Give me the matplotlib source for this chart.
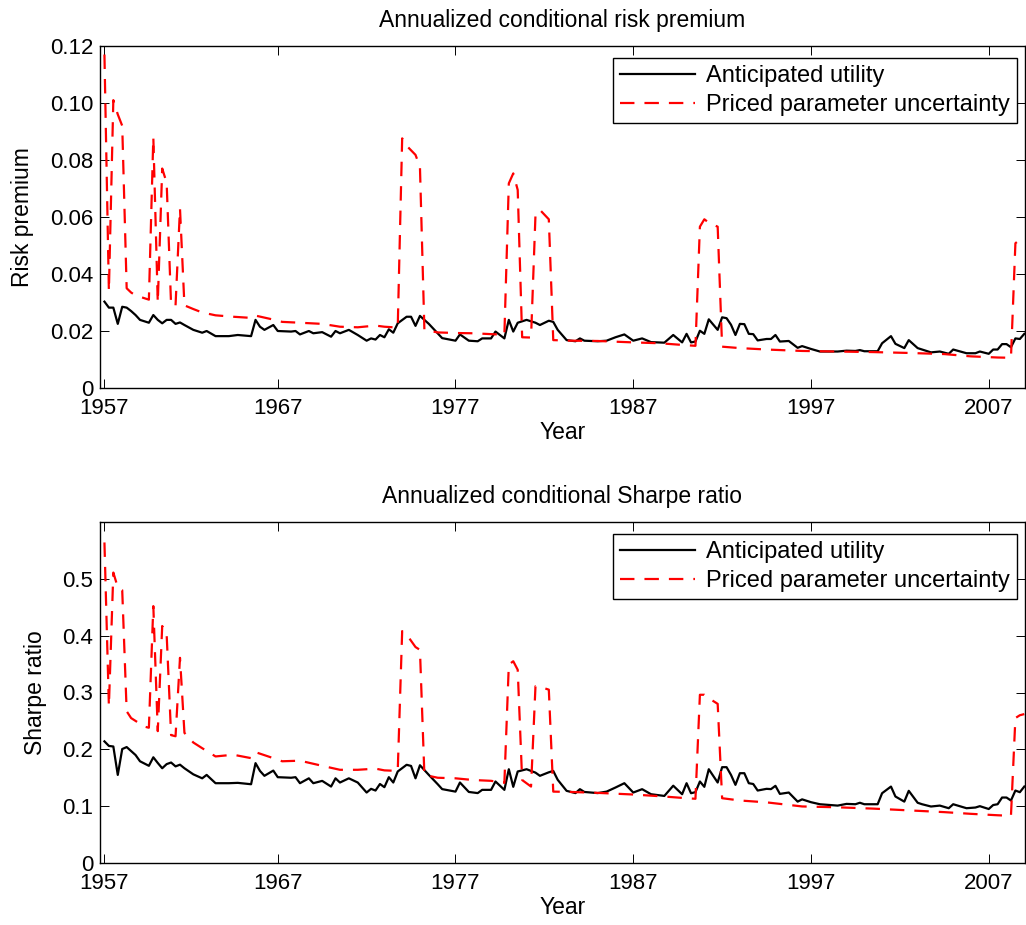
import numpy as np
import matplotlib
matplotlib.use('Agg')
import matplotlib.pyplot as plt

plt.rcParams['font.family'] = ['Liberation Sans', 'DejaVu Sans']
plt.rcParams['font.size'] = 16

# quarterly dates (anticipated utility line)
au_years = [1957.25, 1957.5, 1957.75, 1958.0, 1958.25, 1958.5, 1958.75, 1959.0, 1959.25, 1959.75,
            1960.0, 1960.25, 1960.5, 1960.75, 1961.0, 1961.25, 1961.5, 1961.75, 1962.25, 1962.75,
            1963.0, 1963.5, 1964.25, 1964.75, 1965.5, 1965.75, 1966.0, 1966.25, 1966.75, 1967.0,
            1967.75, 1968.0, 1968.25, 1968.75, 1969.0, 1969.5, 1970.0, 1970.25, 1970.5, 1971.0,
            1971.5, 1972.0, 1972.25, 1972.5, 1972.75, 1973.0, 1973.25, 1973.5, 1973.75, 1974.25,
            1974.5, 1974.75, 1975.0, 1975.5, 1976.0, 1976.25, 1977.0, 1977.25, 1977.75, 1978.25,
            1978.5, 1979.0, 1979.25, 1979.75, 1980.0, 1980.25, 1980.5, 1981.0, 1981.5, 1981.75,
            1982.25, 1982.5, 1982.75, 1983.25, 1983.75, 1984.0, 1984.25, 1985.0, 1985.5, 1986.0,
            1986.5, 1987.0, 1987.5, 1988.0, 1988.75, 1989.25, 1989.75, 1990.0, 1990.25, 1990.5,
            1990.75, 1991.0, 1991.25, 1991.75, 1992.0, 1992.25, 1992.5, 1992.75, 1993.0, 1993.25,
            1993.5, 1993.75, 1994.0, 1994.5, 1994.75, 1995.0, 1995.25, 1995.75, 1996.25, 1996.5,
            1997.0, 1997.5, 1998.5, 1999.0, 1999.5, 1999.75, 2000.0, 2000.75, 2001.0, 2001.5,
            2001.75, 2002.25, 2002.5, 2003.0, 2003.25, 2003.75, 2004.25, 2004.75, 2005.0, 2005.75,
            2006.25, 2006.5, 2007.0, 2007.25, 2007.5, 2007.75, 2008.0, 2008.25, 2008.5, 2008.75,
            2009.0]

rp_au = [0.0303, 0.0282, 0.0282, 0.0225, 0.0285, 0.0282, 0.0270, 0.0256, 0.0239, 0.0229,
         0.0256, 0.0239, 0.0227, 0.0239, 0.0239, 0.0225, 0.0230, 0.0221, 0.0204, 0.0194,
         0.0200, 0.0182, 0.0182, 0.0186, 0.0182, 0.0239, 0.0215, 0.0204, 0.0221, 0.0200,
         0.0198, 0.0200, 0.0188, 0.0200, 0.0192, 0.0196, 0.0180, 0.0200, 0.0192, 0.0204,
         0.0186, 0.0166, 0.0174, 0.0170, 0.0186, 0.0178, 0.0206, 0.0194, 0.0227, 0.0250,
         0.0250, 0.0218, 0.0253, 0.0225, 0.0192, 0.0175, 0.0166, 0.0188, 0.0166, 0.0164,
         0.0174, 0.0174, 0.0198, 0.0174, 0.0239, 0.0198, 0.0229, 0.0239, 0.0229, 0.0221,
         0.0236, 0.0232, 0.0204, 0.0168, 0.0164, 0.0174, 0.0166, 0.0164, 0.0166, 0.0178,
         0.0188, 0.0166, 0.0174, 0.0161, 0.0159, 0.0186, 0.0160, 0.0190, 0.0160, 0.0163,
         0.0201, 0.0190, 0.0241, 0.0204, 0.0248, 0.0245, 0.0222, 0.0186, 0.0225, 0.0224,
         0.0190, 0.0189, 0.0167, 0.0172, 0.0172, 0.0186, 0.0163, 0.0165, 0.0141, 0.0147,
         0.0137, 0.0128, 0.0128, 0.0131, 0.0130, 0.0133, 0.0129, 0.0129, 0.0157, 0.0182,
         0.0155, 0.0140, 0.0168, 0.0140, 0.0135, 0.0125, 0.0128, 0.0120, 0.0135, 0.0122,
         0.0122, 0.0128, 0.0120, 0.0135, 0.0135, 0.0154, 0.0154, 0.0143, 0.0174, 0.0172,
         0.0190]

sr_au = [0.214, 0.206, 0.205, 0.155, 0.2005, 0.204, 0.197, 0.190, 0.179, 0.171,
         0.186, 0.176, 0.1667, 0.174, 0.1768, 0.170, 0.173, 0.1667, 0.156, 0.149,
         0.155, 0.1404, 0.1404, 0.141, 0.1386, 0.1757, 0.162, 0.1534, 0.1626, 0.151,
         0.150, 0.151, 0.1404, 0.149, 0.1404, 0.1445, 0.1345, 0.149, 0.1416, 0.149,
         0.1416, 0.124, 0.1305, 0.1275, 0.139, 0.1334, 0.151, 0.1416, 0.161, 0.1728,
         0.1708, 0.149, 0.172, 0.155, 0.1386, 0.130, 0.1256, 0.1416, 0.125, 0.123,
         0.1287, 0.1287, 0.1434, 0.1287, 0.165, 0.134, 0.161, 0.165, 0.159, 0.1534,
         0.1596, 0.162, 0.1464, 0.127, 0.123, 0.1299, 0.125, 0.123, 0.1256, 0.1328,
         0.1404, 0.124, 0.1299, 0.121, 0.118, 0.136, 0.121, 0.1404, 0.1228, 0.1246,
         0.1434, 0.134, 0.165, 0.1416, 0.1686, 0.1686, 0.155, 0.1375, 0.158, 0.158,
         0.1404, 0.139, 0.1275, 0.1305, 0.130, 0.1358, 0.1216, 0.124, 0.108, 0.112,
         0.107, 0.1034, 0.101, 0.104, 0.1034, 0.106, 0.1034, 0.1034, 0.1228, 0.1345,
         0.117, 0.108, 0.127, 0.106, 0.1034, 0.0994, 0.101, 0.0964, 0.1034, 0.0964,
         0.0976, 0.100, 0.095, 0.102, 0.1034, 0.1152, 0.1152, 0.1099, 0.1275, 0.1246,
         0.1345]

# priced parameter uncertainty line
ppu_years = [1957.25, 1957.5, 1957.75, 1958.0, 1958.25, 1958.5, 1958.75, 1959.0, 1959.5, 1959.75,
             1960.0, 1960.25, 1960.5, 1960.75, 1961.0, 1961.25, 1961.5, 1961.75, 1962.25, 1962.75,
             1963.5, 1964.5, 1965.5, 1965.75, 1966.75, 1967.25, 1968.25, 1969.5, 1970.5, 1971.5,
             1972.5, 1973.0, 1973.75, 1974.0, 1974.25, 1974.75, 1975.0, 1975.25, 1976.0, 1977.0,
             1978.0, 1979.0, 1979.75, 1980.0, 1980.25, 1980.5, 1980.75, 1981.25, 1981.5, 1981.75,
             1982.25, 1982.5, 1983.5, 1985.0, 1987.0, 1988.5, 1990.0, 1990.5, 1990.75, 1991.0,
             1991.25, 1991.75, 1992.0, 1993.0, 1994.5, 1996.5, 1998.5, 2000.5, 2002.5, 2004.5,
             2006.0, 2007.5, 2008.25, 2008.5, 2008.75, 2009.0]

rp_ppu = [0.117, 0.034, 0.101, 0.096, 0.092, 0.035, 0.0335, 0.0325, 0.0315, 0.031,
          0.088, 0.030, 0.077, 0.072, 0.029, 0.029, 0.063, 0.029, 0.0277, 0.0265,
          0.0255, 0.0250, 0.0246, 0.0254, 0.0240, 0.0232, 0.0229, 0.0225, 0.0215, 0.0213,
          0.0219, 0.0215, 0.0212, 0.0876, 0.085, 0.0818, 0.0776, 0.0204, 0.0195, 0.0193,
          0.0192, 0.0189, 0.0187, 0.0718, 0.0753, 0.0695, 0.0178, 0.0177, 0.0607, 0.0625,
          0.0592, 0.0168, 0.0166, 0.0165, 0.0160, 0.0157, 0.0150, 0.0148, 0.0566, 0.0592,
          0.0580, 0.0566, 0.0145, 0.0140, 0.0135, 0.0130, 0.0128, 0.0126, 0.0123, 0.0119,
          0.0111, 0.0107, 0.0106, 0.0508, 0.0520, 0.0530]

sr_ppu = [0.564, 0.276, 0.511, 0.485, 0.480, 0.267, 0.255, 0.250, 0.240, 0.238,
          0.452, 0.232, 0.417, 0.402, 0.225, 0.223, 0.361, 0.229, 0.212, 0.202,
          0.1875, 0.1905, 0.1845, 0.195, 0.1845, 0.179, 0.180, 0.171, 0.164, 0.164,
          0.166, 0.163, 0.162, 0.408, 0.402, 0.380, 0.375, 0.155, 0.150, 0.149,
          0.146, 0.1446, 0.141, 0.349, 0.355, 0.340, 0.146, 0.1345, 0.311, 0.310,
          0.305, 0.1256, 0.125, 0.1234, 0.1205, 0.1175, 0.114, 0.113, 0.296, 0.296,
          0.290, 0.280, 0.114, 0.110, 0.1067, 0.0995, 0.098, 0.0957, 0.0926, 0.0895,
          0.0865, 0.084, 0.083, 0.255, 0.260, 0.262]

tick_years = [1957.25, 1967, 1977, 1987, 1997, 2007]
tick_labels = ['1957', '1967', '1977', '1987', '1997', '2007']

W, H = 1026, 925
fig = plt.figure(figsize=(W / 100, H / 100), dpi=100)

panels = [
    (rp_au, rp_ppu, 'Annualized conditional risk premium', 'Risk premium',
     (0, 0.12), [0, 0.02, 0.04, 0.06, 0.08, 0.10, 0.12],
     ['0', '0.02', '0.04', '0.06', '0.08', '0.10', '0.12'], 46, 388),
    (sr_au, sr_ppu, 'Annualized conditional Sharpe ratio', 'Sharpe ratio',
     (0, 0.6), [0, 0.1, 0.2, 0.3, 0.4, 0.5],
     ['0', '0.1', '0.2', '0.3', '0.4', '0.5'], 522, 863),
]

for au, ppu, title, ylab, ylim, yt, ytl, top, bot in panels:
    ax = fig.add_axes([100 / W, (H - bot) / H, 925 / W, (bot - top) / H])
    ax.plot(au_years, au, color='black', lw=1.6, label='Anticipated utility')
    ax.plot(ppu_years, ppu, color='red', lw=1.6, dashes=(6.5, 4.5),
            label='Priced parameter uncertainty')
    ax.set_xlim(1957.0, 2009.04)
    ax.set_ylim(*ylim)
    ax.set_xticks(tick_years)
    ax.set_xticklabels(tick_labels)
    ax.set_yticks(yt)
    ax.set_yticklabels(ytl)
    ax.tick_params(direction='in', length=6.5, width=0.7, top=True, right=True,
                   labelsize=16)
    ax.tick_params(axis='y', pad=5)
    ax.tick_params(axis='x', pad=7)
    for s in ax.spines.values():
        s.set_linewidth(1.0)
    ax.set_title(title, fontsize=16.5, pad=14)
    ax.set_xlabel('Year', fontsize=16.5, labelpad=2)
    ax.set_ylabel(ylab, fontsize=16.5, labelpad=11)
    leg = ax.legend(loc='upper right', bbox_to_anchor=(917 / 925, 1 - 12 / (bot - top)),
                    borderaxespad=0, fancybox=False, edgecolor='black', framealpha=1,
                    fontsize=17, handlelength=3.2, handletextpad=0.45, labelspacing=0.3,
                    borderpad=0.3)
    leg.get_frame().set_linewidth(1.0)

fig.savefig('out.png', dpi=100)
